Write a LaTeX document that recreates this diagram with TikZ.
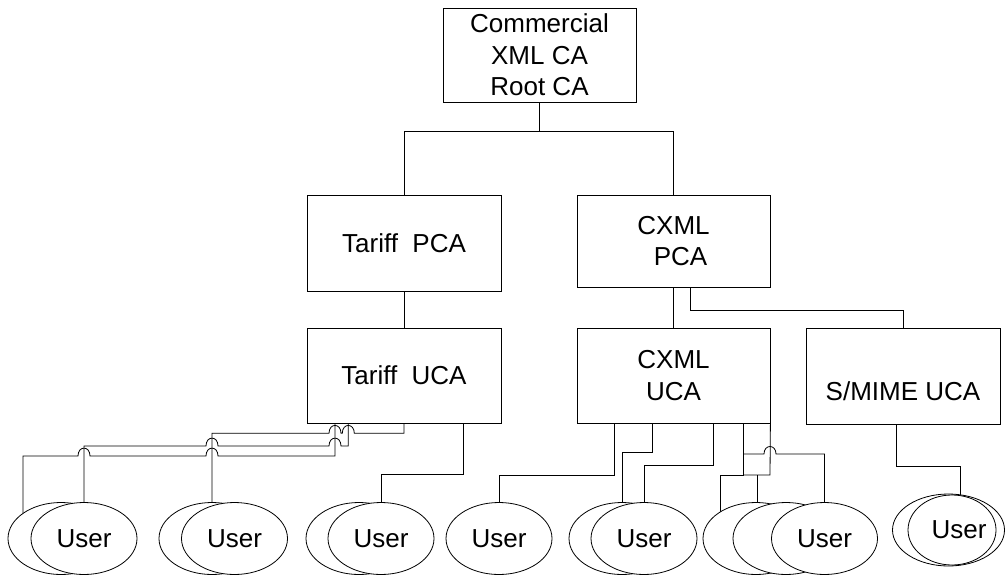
\documentclass[tikz,border=0pt]{standalone}
\usepackage{fontspec}
\setmainfont{Liberation Sans}
\usetikzlibrary{shapes.geometric}
\pgfdeclarelayer{bg}
\pgfsetlayers{bg,main}
\begin{document}
\begin{tikzpicture}[x=1pt,y=-1pt,
  box/.style={draw, line width=0.8pt, rectangle, inner sep=0pt, align=center,
    font=\fontsize{26}{31.5}\selectfont},
  usr/.style={draw, ellipse, fill=white, line width=0.8pt, inner sep=0pt,
    minimum width=106pt, minimum height=72pt, font=\fontsize{26}{31.5}\selectfont},
  conn/.style={line width=0.8pt}]
\useasboundingbox (0,0) rectangle (1006,575);

% CA boxes
\node[box, minimum width=193pt, minimum height=94pt] (root) at (539.5,55) {Commercial\\XML CA\\Root CA};
\node[box, minimum width=194pt, minimum height=96pt] (tpca) at (404,243) {Tariff\ \ PCA};
\node[box, minimum width=193pt, minimum height=92pt] (cpca) at (673.5,241) {CXML\\\hspace*{14pt}PCA};
\node[box, minimum width=194pt, minimum height=95pt] (tuca) at (404,375.5) {Tariff\ \ UCA};
\node[box, minimum width=193pt, minimum height=95pt] (cuca) at (673.5,375.5) {CXML\\UCA};
\node[box, minimum width=194pt, minimum height=96pt] (suca) at (903,376) {\vphantom{S}\\S/MIME UCA};

% users
\node[usr] (u1b) at (61,538.5) {};
\node[usr] (u1f) at (84,538.5) {User};
\node[usr] (u2b) at (212,538.5) {};
\node[usr] (u2f) at (234.5,538.5) {User};
\node[usr] (u3b) at (359,538.5) {};
\node[usr] (u3f) at (381,538.5) {User};
\node[usr] (u4) at (499,538.5) {User};
\node[usr] (u5b) at (622,538.5) {};
\node[usr] (u5f) at (644,538.5) {User};
\node[usr] (u6b) at (756,538.5) {};
\node[usr] (u6m) at (786,538.5) {};
\node[usr] (u6f) at (824.5,538.5) {User};
\node[usr, minimum width=112pt, minimum height=72pt] (u7b) at (948.5,530) {};
\node[usr, minimum width=88pt, minimum height=70pt] (u7f) at (952,530) {\makebox[0pt]{\hspace*{14pt}User}};

\coordinate (ij) at (757,475);
\coordinate (jj) at (743.6,454);

\begin{pgfonlayer}{bg}
\draw[conn] (root.south) -- ++(0,29) -| (tpca.north);
\draw[conn] (root.south) -- ++(0,29) -| (cpca.north);
\draw[conn] (tpca.south) -- (tuca.north);
\draw[conn] (cpca.south) -- (cuca.north);
\draw[conn] (cpca.south -| 690.5,0) -- (690.5,310) -| (suca.north);

% Tariff UCA users
\draw[conn] (tuca.south) -- (404,433.3) -- (354.3,433.3)
  .. controls (354.3,422.8) and (342.3,422.8) .. (342.3,433.3) -- (341,433.3)
  .. controls (341,422.8) and (329,422.8) .. (329,433.3) -- (212,433.3) -- (u2b.center);
\draw[conn] (tuca.south -| 348.3,0) -- (348.3,446) -- (341,446)
  .. controls (341,435.5) and (329,435.5) .. (329,446) -- (218,446)
  .. controls (218,435.5) and (206,435.5) .. (206,446) -- (84,446) -- (u1f.north);
\draw[conn] (tuca.south -| 335,0) -- (335,456) -- (218,456)
  .. controls (218,445.5) and (206,445.5) .. (206,456) -- (90,456)
  .. controls (90,445.5) and (78,445.5) .. (78,456) -- (23,456) -- (u1b.center -| 23,0);
\draw[conn] (tuca.south -| 463.6,0) -- (463.6,474) -| (u3f.north);

% CXML UCA users
\draw[conn] (cuca.south -| 614.5,0) -- (614.5,475) -| (u4.north);
\draw[conn] (cuca.south -| 652.7,0) -- (652.7,452) -| (u5b.north);
\draw[conn] (cuca.south -| 713.5,0) -- (713.5,465) -| (u5f.north);
\draw[conn] (cuca.south -| 743.6,0) -- (743.6,475) -- (720.7,475) -- (u6b.center -| 720.7,0);
\draw[conn] (cuca.south east) -- (770,475) -- (743.6,475);
\draw[conn] (ij) -- (u6m.center -| ij);
\draw[conn] (jj) -- (764,454) .. controls (764,444) and (776,444) .. (776,454)
  -- (u6f.north |- jj) -- (u6f.north);

% S/MIME user
\draw[conn] (suca.south -| 896,0) -- (896,466) -- (960,466) -- (u7f.center -| 960,0);
\end{pgfonlayer}
\end{tikzpicture}
\end{document}
